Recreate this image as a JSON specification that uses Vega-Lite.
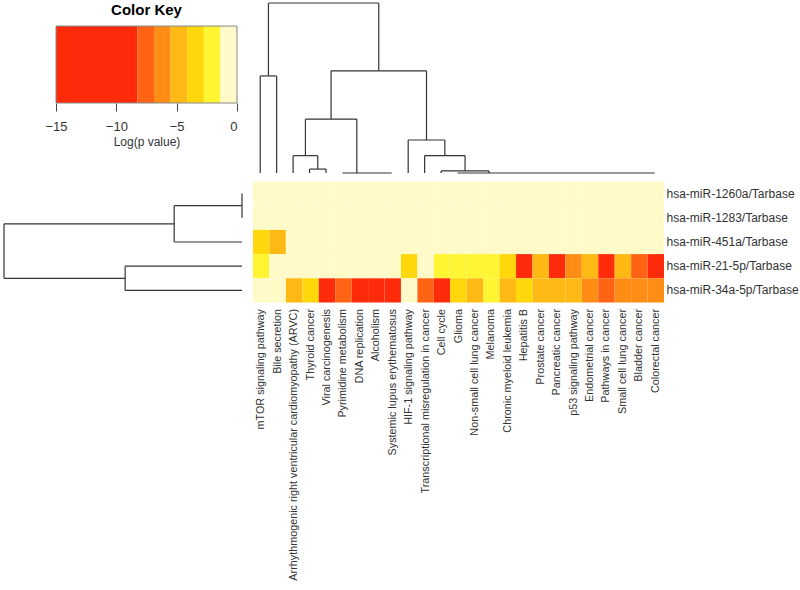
{
  "$schema": "https://vega.github.io/schema/vega-lite/v6.json",
  "padding": {"left": 3, "top": 2, "right": 0, "bottom": 0},
  "config": {"view": {"stroke": null}, "font": "Liberation Sans"},
  "datasets": {
    "key": [
      {"lo": -15, "hi": -8.25, "mid": -10},
      {"lo": -8.25, "hi": -6.875, "mid": -7.5},
      {"lo": -6.875, "hi": -5.5, "mid": -6},
      {"lo": -5.5, "hi": -4.125, "mid": -4.8},
      {"lo": -4.125, "hi": -2.75, "mid": -3.4},
      {"lo": -2.75, "hi": -1.375, "mid": -2},
      {"lo": -1.375, "hi": 0, "mid": -0.5}
    ],
    "top": [
      {"p1": 0.5, "p2": 1.5, "h1": 5.71, "h2": 5.71},
      {"p1": 0.5, "p2": 0.5, "h1": 0, "h2": 5.71},
      {"p1": 1.5, "p2": 1.5, "h1": 0, "h2": 5.71},
      {"p1": 3.5, "p2": 4.5, "h1": 0.23, "h2": 0.23},
      {"p1": 3.5, "p2": 3.5, "h1": 0, "h2": 0.23},
      {"p1": 4.5, "p2": 4.5, "h1": 0, "h2": 0.23},
      {"p1": 2.5, "p2": 4.0, "h1": 1.02, "h2": 1.02},
      {"p1": 2.5, "p2": 2.5, "h1": 0, "h2": 1.02},
      {"p1": 4.0, "p2": 4.0, "h1": 0.23, "h2": 1.02},
      {"p1": 5.5, "p2": 8.5, "h1": 0, "h2": 0},
      {"p1": 3.25, "p2": 6.375, "h1": 3.17, "h2": 3.17},
      {"p1": 3.25, "p2": 3.25, "h1": 1.02, "h2": 3.17},
      {"p1": 6.375, "p2": 6.375, "h1": 0, "h2": 3.17},
      {"p1": 12.5, "p2": 24.5, "h1": 0, "h2": 0},
      {"p1": 11.5, "p2": 14.42, "h1": 0.12, "h2": 0.12},
      {"p1": 11.5, "p2": 11.5, "h1": 0, "h2": 0.12},
      {"p1": 14.42, "p2": 14.42, "h1": 0, "h2": 0.12},
      {"p1": 10.5, "p2": 12.96, "h1": 1.02, "h2": 1.02},
      {"p1": 10.5, "p2": 10.5, "h1": 0, "h2": 1.02},
      {"p1": 12.96, "p2": 12.96, "h1": 0.12, "h2": 1.02},
      {"p1": 9.5, "p2": 11.73, "h1": 1.94, "h2": 1.94},
      {"p1": 9.5, "p2": 9.5, "h1": 0, "h2": 1.94},
      {"p1": 11.73, "p2": 11.73, "h1": 1.02, "h2": 1.94},
      {"p1": 4.81, "p2": 10.615, "h1": 6.01, "h2": 6.01},
      {"p1": 4.81, "p2": 4.81, "h1": 3.17, "h2": 6.01},
      {"p1": 10.615, "p2": 10.615, "h1": 1.94, "h2": 6.01},
      {"p1": 1.0, "p2": 7.71, "h1": 10, "h2": 10},
      {"p1": 1.0, "p2": 1.0, "h1": 5.71, "h2": 10},
      {"p1": 7.71, "p2": 7.71, "h1": 6.01, "h2": 10}
    ],
    "left": [
      {"h1": 0, "h2": 0, "p1": 0.5, "p2": 1.5},
      {"h1": 2.85, "h2": 2.85, "p1": 1.0, "p2": 2.5},
      {"h1": 0, "h2": 2.85, "p1": 1.0, "p2": 1.0},
      {"h1": 0, "h2": 2.85, "p1": 2.5, "p2": 2.5},
      {"h1": 4.91, "h2": 4.91, "p1": 3.5, "p2": 4.5},
      {"h1": 0, "h2": 4.91, "p1": 3.5, "p2": 3.5},
      {"h1": 0, "h2": 4.91, "p1": 4.5, "p2": 4.5},
      {"h1": 10, "h2": 10, "p1": 1.75, "p2": 4.0},
      {"h1": 2.85, "h2": 10, "p1": 1.75, "p2": 1.75},
      {"h1": 4.91, "h2": 10, "p1": 4.0, "p2": 4.0}
    ],
    "cells": [
      {"p": "mTOR signaling pathway", "hsa-miR-1260a/Tarbase": -0.5, "hsa-miR-1283/Tarbase": -0.5, "hsa-miR-451a/Tarbase": -3.4, "hsa-miR-21-5p/Tarbase": -2, "hsa-miR-34a-5p/Tarbase": -0.5},
      {"p": "Bile secretion", "hsa-miR-1260a/Tarbase": -0.5, "hsa-miR-1283/Tarbase": -0.5, "hsa-miR-451a/Tarbase": -4.8, "hsa-miR-21-5p/Tarbase": -0.5, "hsa-miR-34a-5p/Tarbase": -0.5},
      {"p": "Arrhythmogenic right ventricular cardiomyopathy (ARVC)", "hsa-miR-1260a/Tarbase": -0.5, "hsa-miR-1283/Tarbase": -0.5, "hsa-miR-451a/Tarbase": -0.5, "hsa-miR-21-5p/Tarbase": -0.5, "hsa-miR-34a-5p/Tarbase": -4.8},
      {"p": "Thyroid cancer", "hsa-miR-1260a/Tarbase": -0.5, "hsa-miR-1283/Tarbase": -0.5, "hsa-miR-451a/Tarbase": -0.5, "hsa-miR-21-5p/Tarbase": -0.5, "hsa-miR-34a-5p/Tarbase": -3.4},
      {"p": "Viral carcinogenesis", "hsa-miR-1260a/Tarbase": -0.5, "hsa-miR-1283/Tarbase": -0.5, "hsa-miR-451a/Tarbase": -0.5, "hsa-miR-21-5p/Tarbase": -0.5, "hsa-miR-34a-5p/Tarbase": -10},
      {"p": "Pyrimidine metabolism", "hsa-miR-1260a/Tarbase": -0.5, "hsa-miR-1283/Tarbase": -0.5, "hsa-miR-451a/Tarbase": -0.5, "hsa-miR-21-5p/Tarbase": -0.5, "hsa-miR-34a-5p/Tarbase": -7.5},
      {"p": "DNA replication", "hsa-miR-1260a/Tarbase": -0.5, "hsa-miR-1283/Tarbase": -0.5, "hsa-miR-451a/Tarbase": -0.5, "hsa-miR-21-5p/Tarbase": -0.5, "hsa-miR-34a-5p/Tarbase": -8.5},
      {"p": "Alcoholism", "hsa-miR-1260a/Tarbase": -0.5, "hsa-miR-1283/Tarbase": -0.5, "hsa-miR-451a/Tarbase": -0.5, "hsa-miR-21-5p/Tarbase": -0.5, "hsa-miR-34a-5p/Tarbase": -10},
      {"p": "Systemic lupus erythematosus", "hsa-miR-1260a/Tarbase": -0.5, "hsa-miR-1283/Tarbase": -0.5, "hsa-miR-451a/Tarbase": -0.5, "hsa-miR-21-5p/Tarbase": -0.5, "hsa-miR-34a-5p/Tarbase": -10},
      {"p": "HIF-1 signaling pathway", "hsa-miR-1260a/Tarbase": -0.5, "hsa-miR-1283/Tarbase": -0.5, "hsa-miR-451a/Tarbase": -0.5, "hsa-miR-21-5p/Tarbase": -3.4, "hsa-miR-34a-5p/Tarbase": -0.5},
      {"p": "Transcriptional misregulation in cancer", "hsa-miR-1260a/Tarbase": -0.5, "hsa-miR-1283/Tarbase": -0.5, "hsa-miR-451a/Tarbase": -0.5, "hsa-miR-21-5p/Tarbase": -0.5, "hsa-miR-34a-5p/Tarbase": -7.5},
      {"p": "Cell cycle", "hsa-miR-1260a/Tarbase": -0.5, "hsa-miR-1283/Tarbase": -0.5, "hsa-miR-451a/Tarbase": -0.5, "hsa-miR-21-5p/Tarbase": -2, "hsa-miR-34a-5p/Tarbase": -10},
      {"p": "Glioma", "hsa-miR-1260a/Tarbase": -0.5, "hsa-miR-1283/Tarbase": -0.5, "hsa-miR-451a/Tarbase": -0.5, "hsa-miR-21-5p/Tarbase": -2, "hsa-miR-34a-5p/Tarbase": -3.4},
      {"p": "Non-small cell lung cancer", "hsa-miR-1260a/Tarbase": -0.5, "hsa-miR-1283/Tarbase": -0.5, "hsa-miR-451a/Tarbase": -0.5, "hsa-miR-21-5p/Tarbase": -2, "hsa-miR-34a-5p/Tarbase": -4.8},
      {"p": "Melanoma", "hsa-miR-1260a/Tarbase": -0.5, "hsa-miR-1283/Tarbase": -0.5, "hsa-miR-451a/Tarbase": -0.5, "hsa-miR-21-5p/Tarbase": -2, "hsa-miR-34a-5p/Tarbase": -2},
      {"p": "Chronic myeloid leukemia", "hsa-miR-1260a/Tarbase": -0.5, "hsa-miR-1283/Tarbase": -0.5, "hsa-miR-451a/Tarbase": -0.5, "hsa-miR-21-5p/Tarbase": -3.4, "hsa-miR-34a-5p/Tarbase": -4.8},
      {"p": "Hepatitis B", "hsa-miR-1260a/Tarbase": -0.5, "hsa-miR-1283/Tarbase": -0.5, "hsa-miR-451a/Tarbase": -0.5, "hsa-miR-21-5p/Tarbase": -10, "hsa-miR-34a-5p/Tarbase": -3.4},
      {"p": "Prostate cancer", "hsa-miR-1260a/Tarbase": -0.5, "hsa-miR-1283/Tarbase": -0.5, "hsa-miR-451a/Tarbase": -0.5, "hsa-miR-21-5p/Tarbase": -4.8, "hsa-miR-34a-5p/Tarbase": -4.8},
      {"p": "Pancreatic cancer", "hsa-miR-1260a/Tarbase": -0.5, "hsa-miR-1283/Tarbase": -0.5, "hsa-miR-451a/Tarbase": -0.5, "hsa-miR-21-5p/Tarbase": -10, "hsa-miR-34a-5p/Tarbase": -4.8},
      {"p": "p53 signaling pathway", "hsa-miR-1260a/Tarbase": -0.5, "hsa-miR-1283/Tarbase": -0.5, "hsa-miR-451a/Tarbase": -0.5, "hsa-miR-21-5p/Tarbase": -6, "hsa-miR-34a-5p/Tarbase": -4.8},
      {"p": "Endometrial cancer", "hsa-miR-1260a/Tarbase": -0.5, "hsa-miR-1283/Tarbase": -0.5, "hsa-miR-451a/Tarbase": -0.5, "hsa-miR-21-5p/Tarbase": -4.8, "hsa-miR-34a-5p/Tarbase": -6},
      {"p": "Pathways in cancer", "hsa-miR-1260a/Tarbase": -0.5, "hsa-miR-1283/Tarbase": -0.5, "hsa-miR-451a/Tarbase": -0.5, "hsa-miR-21-5p/Tarbase": -10, "hsa-miR-34a-5p/Tarbase": -7.5},
      {"p": "Small cell lung cancer", "hsa-miR-1260a/Tarbase": -0.5, "hsa-miR-1283/Tarbase": -0.5, "hsa-miR-451a/Tarbase": -0.5, "hsa-miR-21-5p/Tarbase": -4.8, "hsa-miR-34a-5p/Tarbase": -6},
      {"p": "Bladder cancer", "hsa-miR-1260a/Tarbase": -0.5, "hsa-miR-1283/Tarbase": -0.5, "hsa-miR-451a/Tarbase": -0.5, "hsa-miR-21-5p/Tarbase": -7.5, "hsa-miR-34a-5p/Tarbase": -6},
      {"p": "Colorectal cancer", "hsa-miR-1260a/Tarbase": -0.5, "hsa-miR-1283/Tarbase": -0.5, "hsa-miR-451a/Tarbase": -0.5, "hsa-miR-21-5p/Tarbase": -10, "hsa-miR-34a-5p/Tarbase": -6}
    ]
  },
  "vconcat": [
    {
      "spacing": 14,
      "hconcat": [
        {
          "width": 233,
          "height": 100,
          "title": {"text": "Color Key", "fontSize": 15, "fontWeight": "bold", "dx": 26, "offset": -15, "color": "#000000"},
          "layer": [
            {
              "data": {"name": "key"},
              "mark": {"type": "rect"},
              "encoding": {
                "x": {"field": "lo", "type": "quantitative", "scale": {"domain": [-19.31, 0], "nice": false, "zero": false},
                  "axis": {"values": [-15, -10, -5, 0], "title": "Log(p value)", "domain": false, "grid": false, "tickSize": 8, "tickColor": "#444444", "labelFontSize": 13, "labelColor": "#333333", "labelPadding": 9, "titleFontSize": 12, "titleFontWeight": "normal", "titleColor": "#333333", "titleX": 142.5, "titlePadding": 3}},
                "x2": {"field": "hi"},
                "y": {"datum": 0, "type": "quantitative", "scale": {"domain": [0, 1.3], "nice": false, "zero": false}, "axis": null},
                "y2": {"datum": 1},
                "color": {"field": "mid", "type": "quantitative", "legend": null,
                  "scale": {"type": "threshold", "domain": [-8.25, -6.875, -5.5, -4.125, -2.75, -1.375], "range": ["#FF2B0A", "#FF6414", "#FF8C14", "#FFB914", "#FFD70A", "#FFF532", "#FFFAC8"]}}
              }
            },
            {
              "data": {"values": [{"lo": -15, "hi": 0}]},
              "mark": {"type": "rect", "filled": false, "stroke": "#888888", "strokeWidth": 1},
              "encoding": {
                "x": {"field": "lo", "type": "quantitative"},
                "x2": {"field": "hi"},
                "y": {"datum": 0, "type": "quantitative"},
                "y2": {"datum": 1}
              }
            }
          ]
        },
        {
          "width": 411,
          "height": 170,
          "data": {"name": "top"},
          "mark": {"type": "rule", "color": "#333333", "strokeWidth": 1.2},
          "encoding": {
            "x": {"field": "p1", "type": "quantitative", "scale": {"domain": [0, 25], "nice": false, "zero": false}, "axis": null},
            "x2": {"field": "p2"},
            "y": {"field": "h1", "type": "quantitative", "scale": {"domain": [0, 10], "nice": false}, "axis": null},
            "y2": {"field": "h2"}
          }
        }
      ]
    },
    {
      "spacing": 9,
      "hconcat": [
        {
          "width": 238,
          "height": 121,
          "data": {"name": "left"},
          "mark": {"type": "rule", "color": "#333333", "strokeWidth": 1.2},
          "encoding": {
            "x": {"field": "h1", "type": "quantitative", "scale": {"domain": [0, 10], "reverse": true, "nice": false}, "axis": null},
            "x2": {"field": "h2"},
            "y": {"field": "p1", "type": "quantitative", "scale": {"domain": [0, 5], "reverse": true, "nice": false, "zero": false}, "axis": null},
            "y2": {"field": "p2"}
          }
        },
        {
          "width": 411,
          "height": 121,
          "data": {"name": "cells"},
          "transform": [
            {"fold": ["hsa-miR-1260a/Tarbase", "hsa-miR-1283/Tarbase", "hsa-miR-451a/Tarbase", "hsa-miR-21-5p/Tarbase", "hsa-miR-34a-5p/Tarbase"], "as": ["mirna", "v"]}
          ],
          "mark": {"type": "rect"},
          "encoding": {
            "x": {"field": "p", "type": "nominal", "sort": null, "scale": {"paddingInner": 0, "paddingOuter": 0},
              "axis": {"orient": "bottom", "title": null, "labelAngle": 270, "domain": false, "ticks": false, "labelPadding": 6, "labelFontSize": 10.8, "labelLimit": 0, "labelColor": "#333333"}},
            "y": {"field": "mirna", "type": "nominal", "sort": ["hsa-miR-1260a/Tarbase", "hsa-miR-1283/Tarbase", "hsa-miR-451a/Tarbase", "hsa-miR-21-5p/Tarbase", "hsa-miR-34a-5p/Tarbase"], "scale": {"paddingInner": 0, "paddingOuter": 0},
              "axis": {"orient": "right", "title": null, "domain": false, "ticks": false, "labelPadding": 2, "labelFontSize": 12, "labelLimit": 0, "labelColor": "#333333"}},
            "color": {"field": "v", "type": "quantitative", "legend": null,
              "scale": {"type": "threshold", "domain": [-8.25, -6.875, -5.5, -4.125, -2.75, -1.375], "range": ["#FF2B0A", "#FF6414", "#FF8C14", "#FFB914", "#FFD70A", "#FFF532", "#FFFAC8"]}}
          }
        }
      ]
    }
  ],
  "spacing": 7.5
}
